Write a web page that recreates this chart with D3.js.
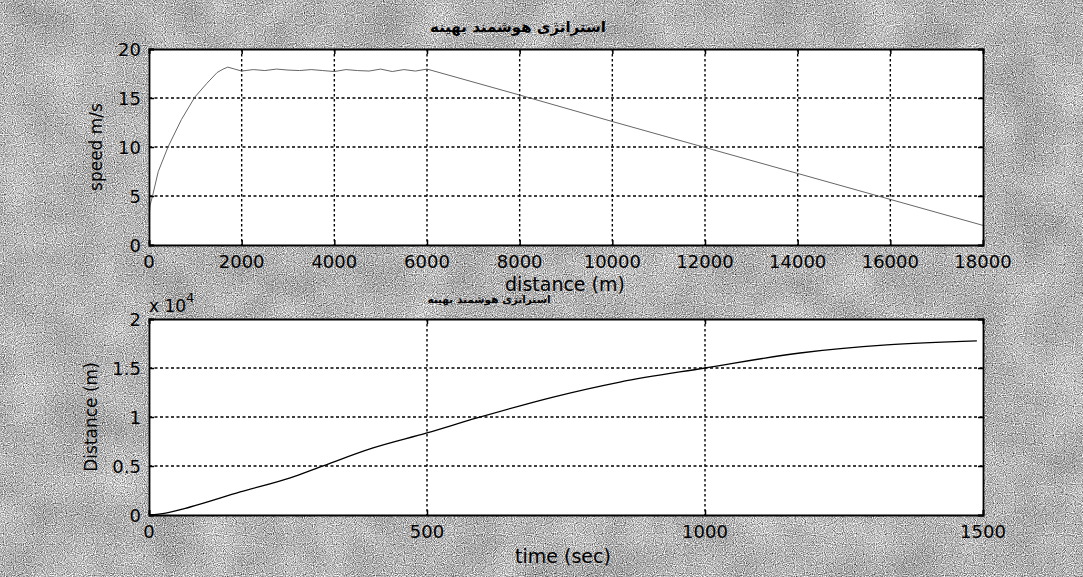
<!DOCTYPE html>
<html>
<head>
<meta charset="utf-8">
<script src="https://cdn.jsdelivr.net/npm/d3@7"></script>
<style>
  html, body { margin: 0; padding: 0; background: #b2b2b2; }
  svg { display: block; }
  text { font-family: "DejaVu Sans", "Liberation Sans", sans-serif; fill: #000; }
</style>
</head>
<body>
<svg id="chart" width="1083" height="577"></svg>
<script>
// ---------- data ----------
const titleText = "استراتژی هوشمند بهینه";

// top subplot: speed (m/s) vs distance (m)
const speedDistance = [0, 20, 86, 200, 410, 700, 990, 1250, 1470, 1600, 1700, 1850,
  2000, 2250, 2500, 2750, 3000, 3250, 3500, 3750, 4000, 4250, 4500, 4750, 5000, 5250, 5500, 5750, 6000,
  8000, 10000, 12000, 14000, 16000, 18000];
const speedValues = [2.5, 4.0, 5.2, 7.5, 10.0, 12.8, 15.1, 16.5, 17.6, 17.95, 18.15, 17.95,
  17.75, 17.9, 17.8, 17.95, 17.85, 17.8, 17.9, 17.8, 17.7, 17.9, 17.8, 17.75, 17.95, 17.7, 17.9, 17.75, 17.95,
  15.3, 12.6, 9.95, 7.3, 4.65, 2.0];
const speedXTicks = [0, 2000, 4000, 6000, 8000, 10000, 12000, 14000, 16000, 18000];
const speedYTicks = [0, 5, 10, 15, 20];

// bottom subplot: distance (m) vs time (s)
const timeValues = [0, 30, 74, 164, 254, 308, 403, 500, 590, 727, 847, 1000, 1171, 1327, 1489];
const distanceValues = [0, 200, 816, 2350, 3780, 4900, 6840, 8370, 9900, 12040, 13570, 15000, 16530, 17350, 17760];
const timeTicks = [0, 500, 1000, 1500];
const distTicks = [0, 5000, 10000, 15000, 20000];
const distTickLabels = ["0", "0.5", "1", "1.5", "2"];

// ---------- drawing ----------
const svg = d3.select("#chart");
const W = 1083, H = 577;

// scanned-paper background: fine grain + faint mottling
const defs = svg.append("defs");
const f = defs.append("filter").attr("id", "grain")
  .attr("x", 0).attr("y", 0).attr("width", "100%").attr("height", "100%")
  .attr("color-interpolation-filters", "sRGB");
const gm = "0.33 0.33 0.33 0 0 0.33 0.33 0.33 0 0 0.33 0.33 0.33 0 0 0 0 0 0 1";
f.append("feTurbulence").attr("type", "fractalNoise").attr("baseFrequency", "0.9")
  .attr("numOctaves", 1).attr("seed", 7).attr("result", "fine0");
f.append("feColorMatrix").attr("in", "fine0").attr("type", "matrix").attr("values", gm).attr("result", "fine");
f.append("feTurbulence").attr("type", "fractalNoise").attr("baseFrequency", "0.02")
  .attr("numOctaves", 3).attr("seed", 3).attr("result", "coarse0");
f.append("feColorMatrix").attr("in", "coarse0").attr("type", "matrix").attr("values", gm).attr("result", "coarse");
f.append("feComposite").attr("in", "fine").attr("in2", "coarse").attr("operator", "arithmetic")
  .attr("k1", 0).attr("k2", 2.3).attr("k3", 0.35).attr("k4", -0.61);
svg.append("rect").attr("width", W).attr("height", H).attr("fill", "#b2b2b2");
svg.append("rect").attr("width", W).attr("height", H).attr("filter", "url(#grain)");

function drawPanel(cfg) {
  const x = d3.scaleLinear().domain(cfg.xDomain).range([149, 983]);
  const y = d3.scaleLinear().domain(cfg.yDomain).range([cfg.bottom, cfg.top]);
  const g = svg.append("g");

  g.append("rect").attr("x", 149).attr("y", cfg.top)
    .attr("width", 834).attr("height", cfg.bottom - cfg.top).attr("fill", "#fff");

  // grid (dotted)
  g.selectAll(".gx").data(cfg.xTicks.filter(d => d > cfg.xDomain[0] && d < cfg.xDomain[1]))
    .join("line").attr("x1", d => x(d)).attr("x2", d => x(d))
    .attr("y1", cfg.top).attr("y2", cfg.bottom)
    .attr("stroke", "#000").attr("stroke-width", 1.4).attr("stroke-dasharray", "2.5,2.5");
  g.selectAll(".gy").data(cfg.yTicks.filter(d => d > cfg.yDomain[0] && d < cfg.yDomain[1]))
    .join("line").attr("y1", d => y(d)).attr("y2", d => y(d))
    .attr("x1", 149).attr("x2", 983)
    .attr("stroke", "#000").attr("stroke-width", 1.4).attr("stroke-dasharray", "3,2.5");

  // data line
  const line = d3.line().x(d => x(d[0])).y(d => y(d[1])).curve(cfg.curve);
  g.append("path").datum(d3.zip(cfg.xs, cfg.ys)).attr("d", line)
    .attr("fill", "none").attr("stroke", cfg.stroke).attr("stroke-width", cfg.strokeWidth);

  // axes with inward ticks (box style)
  const ax = d3.axisBottom(x).tickValues(cfg.xTicks).tickSize(-5).tickFormat("");
  const ay = d3.axisLeft(y).tickValues(cfg.yTicks).tickSize(-5).tickFormat("");
  const axT = d3.axisTop(x).tickValues(cfg.xTicks).tickSize(-5).tickFormat("");
  const ayR = d3.axisRight(y).tickValues(cfg.yTicks).tickSize(-5).tickFormat("");
  [[ax, `translate(0,${cfg.bottom})`], [axT, `translate(0,${cfg.top})`],
   [ay, "translate(149,0)"], [ayR, "translate(983,0)"]].forEach(([a, t]) => {
    const s = g.append("g").attr("transform", t).call(a);
    s.select(".domain").attr("stroke", "#000").attr("stroke-width", 1.8);
    s.selectAll(".tick line").attr("stroke", "#000").attr("stroke-width", 1.5);
  });

  // tick labels
  g.selectAll(".xl").data(cfg.xTicks).join("text")
    .attr("x", d => x(d)).attr("y", cfg.bottom + 23)
    .attr("text-anchor", "middle").attr("font-size", 18).text(d => cfg.xFmt(d));
  g.selectAll(".yl").data(cfg.yTicks).join("text")
    .attr("x", 141).attr("y", d => y(d) + 7)
    .attr("text-anchor", "end").attr("font-size", 18).text((d, i) => cfg.yFmt(d, i));

  // y label
  g.append("text").attr("transform", `translate(${cfg.yLabelX},${(cfg.top + cfg.bottom) / 2}) rotate(-90)`)
    .attr("text-anchor", "middle").attr("dy", "0.35em").attr("font-size", 17).text(cfg.yLabel);
  return { x, y };
}

drawPanel({
  xDomain: [0, 18000], yDomain: [0, 20], top: 49, bottom: 245,
  xTicks: speedXTicks, yTicks: speedYTicks,
  xs: speedDistance, ys: speedValues, curve: d3.curveLinear,
  stroke: "#555", strokeWidth: 0.9,
  xFmt: d => String(d), yFmt: d => String(d),
  yLabel: "speed m/s", yLabelX: 96
});

drawPanel({
  xDomain: [0, 1500], yDomain: [0, 20000], top: 319, bottom: 515,
  xTicks: timeTicks, yTicks: distTicks,
  xs: timeValues, ys: distanceValues, curve: d3.curveMonotoneX,
  stroke: "#000", strokeWidth: 1.3,
  xFmt: d => String(d), yFmt: (d, i) => distTickLabels[i],
  yLabel: "Distance (m)", yLabelX: 91
});

// titles and x labels
svg.append("text").attr("x", 518).attr("y", 32).attr("text-anchor", "middle")
  .attr("font-size", 15).attr("font-weight", "bold").text(titleText);
svg.append("text").attr("x", 565).attr("y", 291).attr("text-anchor", "middle")
  .attr("font-size", 19).text("distance (m)");
svg.append("text").attr("x", 489).attr("y", 303).attr("text-anchor", "middle")
  .attr("font-size", 10.5).attr("font-weight", "bold").text(titleText);
svg.append("text").attr("x", 563).attr("y", 563).attr("text-anchor", "middle")
  .attr("font-size", 19).text("time (sec)");

// exponent label
const ex = svg.append("text").attr("x", 149).attr("y", 312).attr("font-size", 17);
ex.append("tspan").text("x 10");
ex.append("tspan").attr("dy", -10).attr("font-size", 13).text("4");
</script>
</body>
</html>
